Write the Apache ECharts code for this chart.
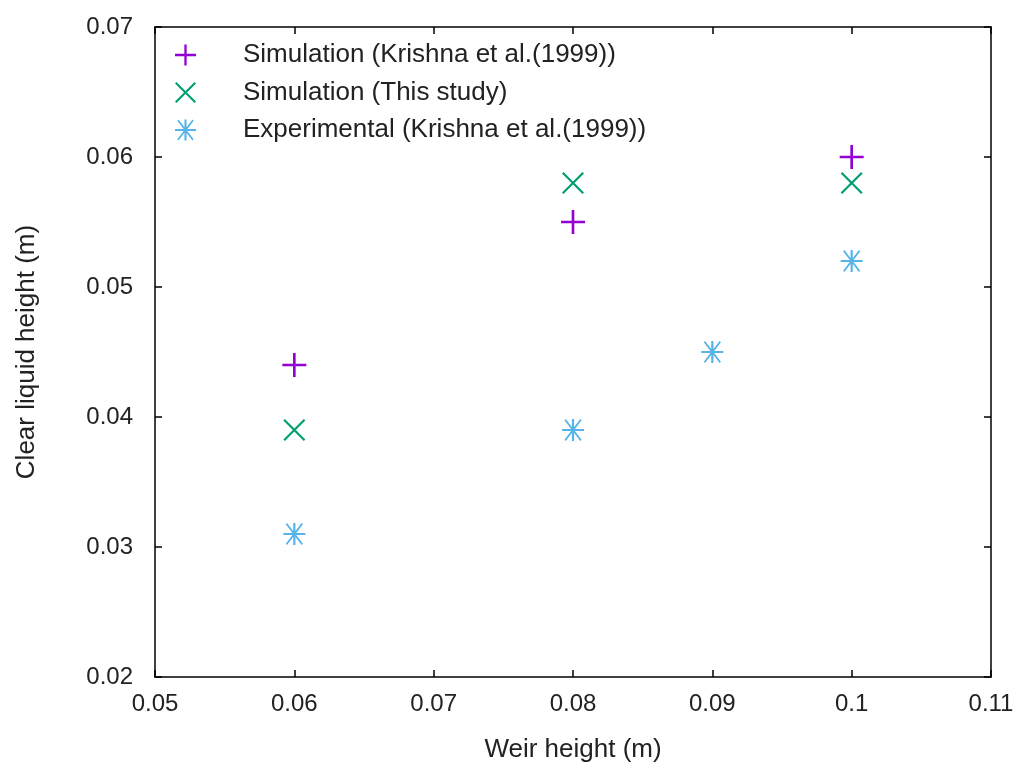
<!DOCTYPE html>
<html><head><meta charset="utf-8">
<script src="https://cdn.jsdelivr.net/npm/echarts@6/dist/echarts.min.js"></script>
<style>html,body{margin:0;padding:0;background:#fff}#c{width:1019px;height:768px}</style>
</head><body><div id="c"></div>
<script>
const seriesNames = ['Simulation (Krishna et al.(1999))','Simulation (This study)','Experimental (Krishna et al.(1999))'];
const simKrishna = [[0.06,0.044],[0.08,0.055],[0.1,0.060]];
const simThis = [[0.06,0.039],[0.08,0.058],[0.1,0.058]];
const expKrishna = [[0.06,0.031],[0.08,0.039],[0.09,0.045],[0.1,0.052]];
const xTicks = {min:0.05,max:0.11,interval:0.01};
const yTicks = {min:0.02,max:0.07,interval:0.01};

const PLUS = 'path://M8.9,0L11.1,0L11.1,8.9L20,8.9L20,11.1L11.1,11.1L11.1,20L8.9,20L8.9,11.1L0,11.1L0,8.9L8.9,8.9Z';
const CROSS = 'path://M0,1.4L1.4,0L20,18.6L18.6,20Z M18.6,0L20,1.4L1.4,20L0,18.6Z';
const STAR = 'path://M9,0L11,0L11,9L20,9L20,11L11,11L11,20L9,20L9,11L0,11L0,9L9,9Z M2.2,1.2L3.4,0L17.8,18.8L16.6,20Z M16.6,0L17.8,1.2L3.4,20L2.2,18.8Z';
const colors = ['#9400d3','#009e73','#56b4e9'];
const font = 'Liberation Sans, Arial, sans-serif';
const fmt = v => String(+(+v).toFixed(2));

const chart = echarts.init(document.getElementById('c'), null, {renderer:'canvas'});
const axisCommon = {
  axisLine:{show:true,onZero:false,lineStyle:{color:'#000',width:1.5}},
  axisTick:{show:true,inside:true,length:7,lineStyle:{color:'#000',width:1.5}},
  splitLine:{show:false}
};
chart.setOption({
  animation:false,
  backgroundColor:'#fff',
  grid:{left:155,right:28,top:27,bottom:91,containLabel:false},
  legend:{
    orient:'vertical',left:170,top:37,itemGap:11.5,
    itemWidth:21,itemHeight:21,
    textStyle:{fontFamily:font,fontSize:26,color:'#222',padding:[0,0,0,42]},
    data:[{name:seriesNames[0],icon:PLUS},{name:seriesNames[1],icon:CROSS},{name:seriesNames[2],icon:STAR}]
  },
  xAxis:[
    Object.assign({type:'value',position:'bottom',min:xTicks.min,max:xTicks.max,interval:xTicks.interval,
      name:'Weir height (m)',nameLocation:'middle',nameGap:60,
      nameTextStyle:{fontFamily:font,fontSize:26,color:'#222'},
      axisLabel:{formatter:fmt,fontFamily:font,fontSize:24,color:'#222',margin:15}},axisCommon),
    Object.assign({type:'value',position:'top',min:xTicks.min,max:xTicks.max,interval:xTicks.interval,
      axisLabel:{show:false}},axisCommon)
  ],
  yAxis:[
    Object.assign({type:'value',position:'left',min:yTicks.min,max:yTicks.max,interval:yTicks.interval,
      name:'Clear liquid height (m)',nameLocation:'middle',nameGap:115,
      nameTextStyle:{fontFamily:font,fontSize:26,color:'#222'},
      axisLabel:{formatter:v=>(+v).toFixed(2),fontFamily:font,fontSize:24,color:'#222',margin:22}},axisCommon),
    Object.assign({type:'value',position:'right',min:yTicks.min,max:yTicks.max,interval:yTicks.interval,
      axisLabel:{show:false}},axisCommon)
  ],
  series:[
    {name:seriesNames[0],type:'scatter',data:simKrishna,symbol:PLUS,symbolSize:24,itemStyle:{color:colors[0],opacity:1}},
    {name:seriesNames[1],type:'scatter',data:simThis,symbol:CROSS,symbolSize:22,itemStyle:{color:colors[1],opacity:1}},
    {name:seriesNames[2],type:'scatter',data:expKrishna,symbol:STAR,symbolSize:22,itemStyle:{color:colors[2],opacity:1}}
  ]
});
</script></body></html>
